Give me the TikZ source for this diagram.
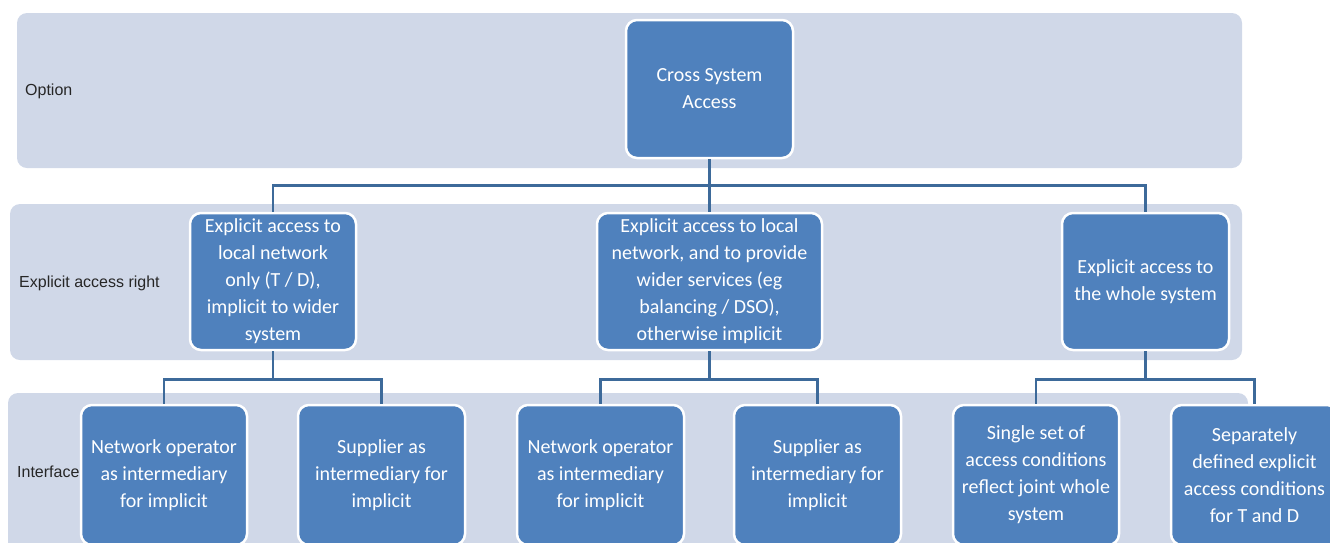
\documentclass[tikz,border=0pt]{standalone}
\usepackage{fontspec}
\setmainfont{Liberation Sans}
\newfontfamily\boxfont{Carlito}
\definecolor{bandgray}{HTML}{D0D8E8}
\definecolor{boxblue}{HTML}{4F81BD}
\definecolor{linkblue}{HTML}{3D6A9A}
\begin{document}
\begin{tikzpicture}[x=1pt,y=-1pt,
   band/.style={fill=bandgray,rounded corners=10pt},
   lbl/.style={anchor=west,inner sep=0pt,text=black!85,font=\fontsize{16}{19}\selectfont},
   box/.style={draw=white,line width=2.5pt,fill=boxblue,rounded corners=11pt,
     text=white,align=center,inner sep=0pt,
     font=\boxfont\fontsize{20}{27}\selectfont},
   link/.style={draw=linkblue,line width=2.8pt}]
   \useasboundingbox (0,0) rectangle (1330,542);
   \clip (0,0) rectangle (1330,542);
   % bands
   \fill[band] (17,13) rectangle (1242,168);
   \fill[band] (10,204) rectangle (1242,360);
   \fill[band] (8,393) rectangle (1248,580);
   \node[lbl] (optlbl) at (25,91)  {Option};
   \node[lbl] (acclbl) at (19,283) {Explicit access right};
   \node[lbl] (intlbl) at (17,472) {Interface};
   % option
   \node[box,minimum width=167pt,minimum height=138pt] (top) at (709.5,89)
      {Cross System\\Access};
   % access right
   \node[box,minimum width=166pt,minimum height=137pt] (accl) at (273,281.5)
      {Explicit access to\\local network\\only (T / D),\\implicit to wider\\system};
   \node[box,minimum width=225pt,minimum height=137pt] (accm) at (709.5,281.5)
      {Explicit access to local\\network, and to provide\\wider services (eg\\balancing / DSO),\\otherwise implicit};
   \node[box,minimum width=167pt,minimum height=137pt] (accr) at (1145.5,281.5)
      {Explicit access to\\the whole system};
   % interface
   \node[box,minimum width=166pt,minimum height=140pt] (int1) at (164,475)
      {Network operator\\as intermediary\\for implicit};
   \node[box,minimum width=167pt,minimum height=140pt] (int2) at (381.5,475)
      {Supplier as\\intermediary for\\implicit};
   \node[box,minimum width=167pt,minimum height=140pt] (int3) at (600.5,475)
      {Network operator\\as intermediary\\for implicit};
   \node[box,minimum width=167pt,minimum height=140pt] (int4) at (817.5,475)
      {Supplier as\\intermediary for\\implicit};
   \node[box,minimum width=166pt,minimum height=140pt] (int5) at (1036,475)
      {Single set of\\access conditions\\reflect joint whole\\system};
   \node[box,minimum width=167pt,minimum height=140pt] (int6) at (1254.5,475)
      {Separately\\defined explicit\\access conditions\\for T and D};
   % connectors
   \draw[link] (top.south) -- ++(0,26) -| (accl.north);
   \draw[link] (top.south) -- (accm.north);
   \draw[link] (top.south) -- ++(0,26) -| (accr.north);
   \draw[link] (accl.south) -- ++(0,28) -| (int1.north);
   \draw[link] (accl.south) -- ++(0,28) -| (int2.north);
   \draw[link] (accm.south) -- ++(0,28) -| (int3.north);
   \draw[link] (accm.south) -- ++(0,28) -| (int4.north);
   \draw[link] (accr.south) -- ++(0,28) -| (int5.north);
   \draw[link] (accr.south) -- ++(0,28) -| (int6.north);
\end{tikzpicture}
\end{document}
